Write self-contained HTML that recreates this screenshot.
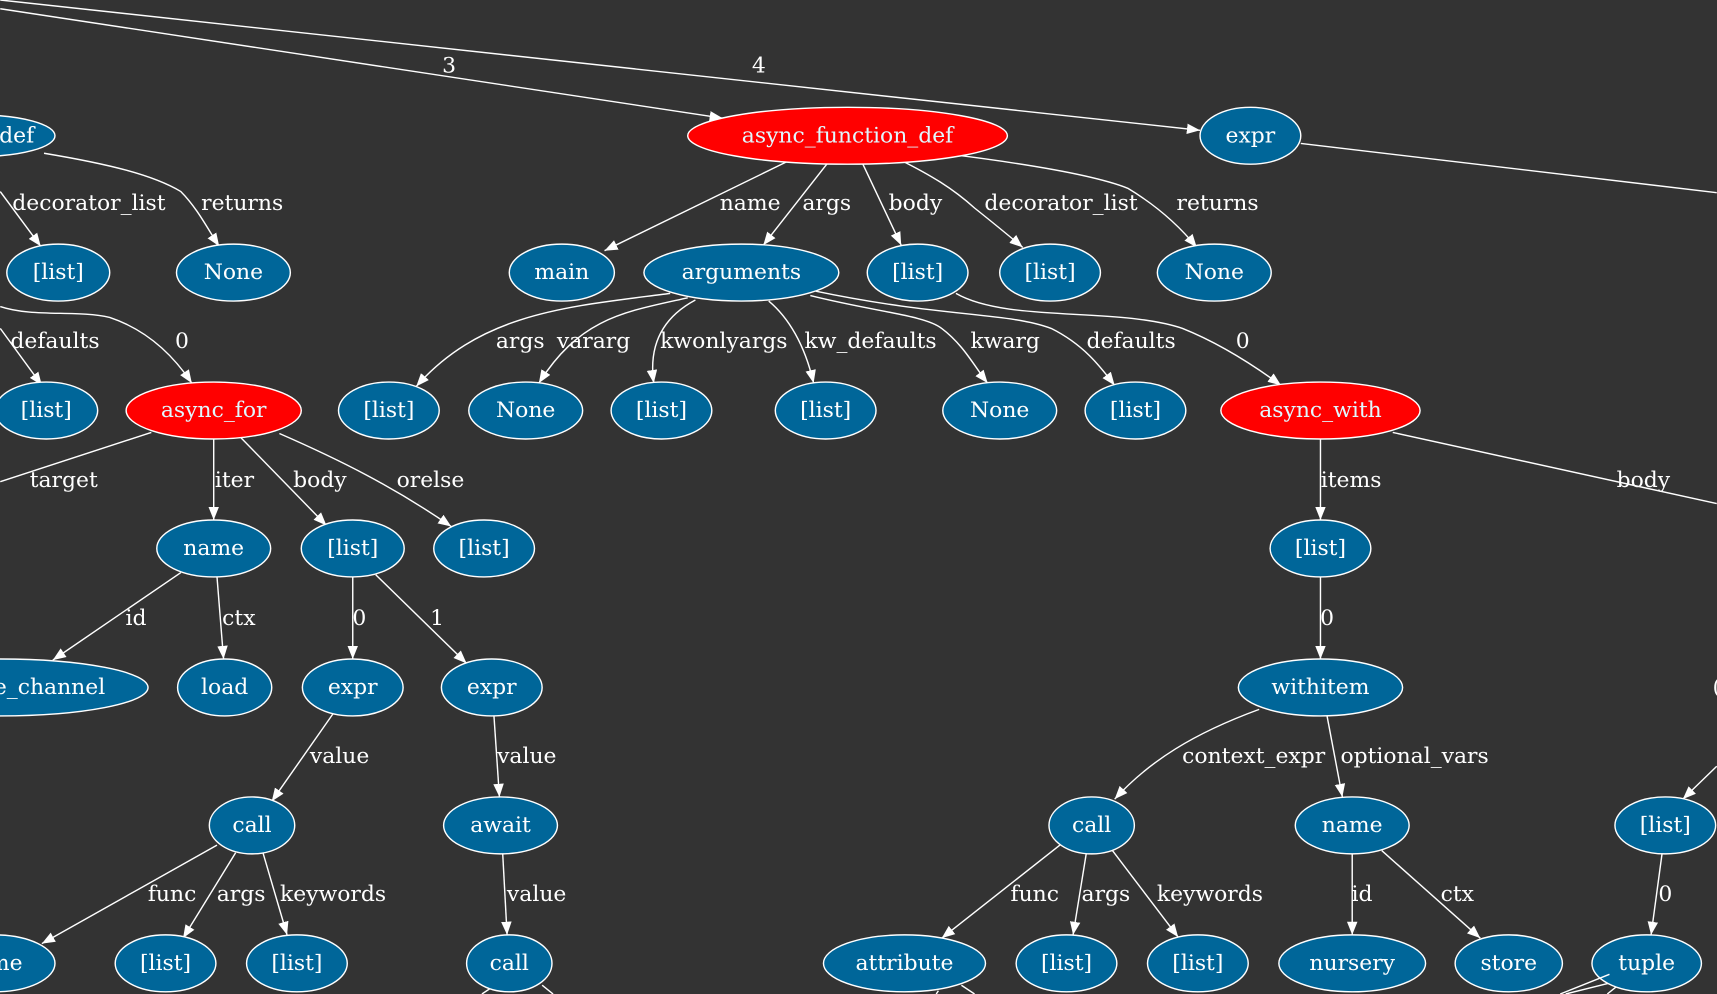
<!DOCTYPE html>
<html><head><meta charset="utf-8"><style>
html,body{margin:0;padding:0;background:#333333;overflow:hidden}
svg{display:block}
text{font-family:"DejaVu Serif","Liberation Serif",serif;font-size:20px;fill:#ffffff}
.n{fill:#006699;stroke:#ffffff;stroke-width:1.3}
.r{fill:#ff0000;stroke:#ffffff;stroke-width:1.3}
.e{fill:none;stroke:#ffffff;stroke-width:1.3}
.p{fill:none;stroke:#ffffff;stroke-width:1.3}
.c{text-anchor:middle}
.rt{fill:#e0f8ff}
</style></head><body>
<svg width="1717" height="994" viewBox="0 0 1568 908" xmlns="http://www.w3.org/2000/svg">
<defs>
<marker id="b" viewBox="0 0 10 10" markerWidth="12" markerHeight="12" refX="10" refY="5" orient="auto" markerUnits="userSpaceOnUse"><path d="M0,1 L10,5 L0,9 z" fill="#fff"/></marker></defs>
<style>.e{marker-end:url(#b)}</style>

<!-- top edges -->
<path class="e" d="M0,8 L660,108"/><text x="410" y="66" class="c">3</text>
<path class="e" d="M0,0 L1096,119"/><text x="693" y="66" class="c">4</text>
<path class="p" d="M1188,131 L1568,176"/>

<!-- def -->
<path class="e" d="M40,140 C100,150 140,160 165,175 C180,190 190,210 200,225"/><text x="221" y="192" class="c">returns</text>
<path class="e" d="M0,175 L37,225"/><text x="81" y="192" class="c">decorator_list</text>
<path class="e" d="M0,300 L38,352"/><text x="50" y="318" class="c">defaults</text>
<path class="e" d="M0,280 C30,290 70,283 100,290 C130,300 155,320 175,350"/><text x="166" y="318" class="c">0</text>

<!-- async_function_def -->
<path class="e" d="M718,148 L552,229"/><text x="685" y="192" class="c">name</text>
<path class="e" d="M755,150 L697,224"/><text x="755" y="192" class="c">args</text>
<path class="e" d="M788,150 L823,224"/><text x="836" y="192" class="c">body</text>
<path class="e" d="M822,146 C850,160 870,172 890,190 C905,202 920,214 934,226"/><text x="969" y="192" class="c">decorator_list</text>
<path class="e" d="M868,141 C940,150 1000,160 1030,172 C1060,190 1080,210 1093,226"/><text x="1112" y="192" class="c">returns</text>

<!-- arguments -->
<path class="e" d="M612,268 C520,280 440,285 380,353"/><text x="475" y="318" class="c">args</text>
<path class="e" d="M628,272 C570,285 530,290 492,350"/><text x="542" y="318" class="c">vararg</text>
<path class="e" d="M635,274 C605,290 592,315 597,350"/><text x="661" y="318" class="c">kwonlyargs</text>
<path class="e" d="M702,275 C720,290 735,315 743,350"/><text x="795" y="318" class="c">kw_defaults</text>
<path class="e" d="M740,270 C800,285 845,288 860,300 C880,315 890,335 902,350"/><text x="918" y="318" class="c">kwarg</text>
<path class="e" d="M745,266 C860,290 920,285 960,300 C990,315 1005,335 1018,352"/><text x="1033" y="318" class="c">defaults</text>
<path class="e" d="M873,268 C920,295 1020,280 1080,300 C1110,312 1140,330 1170,352"/><text x="1135" y="318" class="c">0</text>

<!-- async_for -->
<path class="p" d="M138,395 L0,440"/><text x="58" y="445" class="c">target</text>
<path class="e" d="M195,401 L195,475"/><text x="214" y="445" class="c">iter</text>
<path class="e" d="M220,400 L298,480"/><text x="292" y="445" class="c">body</text>
<path class="e" d="M255,396 C310,420 360,445 412,481"/><text x="393" y="445" class="c">orelse</text>

<!-- name -->
<path class="e" d="M165,523 L48,603"/><text x="124" y="571" class="c">id</text>
<path class="e" d="M198,527 L204,602"/><text x="218" y="571" class="c">ctx</text>
<path class="e" d="M322,527 L322,602"/><text x="328" y="571" class="c">0</text>
<path class="e" d="M343,525 L426,606"/><text x="399" y="571" class="c">1</text>
<path class="e" d="M304,652 L248,732"/><text x="310" y="697" class="c">value</text>
<path class="e" d="M451,654 L456,728"/><text x="481" y="697" class="c">value</text>
<path class="e" d="M198,772 L38,862"/><text x="157" y="823" class="c">func</text>
<path class="e" d="M215,779 L167,857"/><text x="220" y="823" class="c">args</text>
<path class="e" d="M240,779 L262,854"/><text x="304" y="823" class="c">keywords</text>
<path class="e" d="M459,780 L463,854"/><text x="490" y="823" class="c">value</text>
<path class="p" d="M440,908 L452,900 M495,900 L505,908"/>

<!-- async_with -->
<path class="e" d="M1206,401 L1206,475"/><text x="1234" y="445" class="c">items</text>
<path class="p" d="M1272,395 L1568,460"/><text x="1501" y="445" class="c">body</text>
<path class="e" d="M1206,527 L1206,602"/><text x="1212" y="571" class="c">0</text>
<path class="e" d="M1150,648 C1090,670 1050,695 1018,730"/><text x="1145" y="697" class="c">context_expr</text>
<path class="e" d="M1212,654 L1226,728"/><text x="1292" y="697" class="c">optional_vars</text>
<path class="e" d="M968,772 L860,857"/><text x="945" y="823" class="c">func</text>
<path class="e" d="M992,780 L980,854"/><text x="1010" y="823" class="c">args</text>
<path class="e" d="M1016,777 L1076,856"/><text x="1105" y="823" class="c">keywords</text>
<path class="p" d="M855,908 L857,905 M878,900 L890,908"/>
<path class="e" d="M1235,780 L1235,854"/><text x="1244" y="823" class="c">id</text>
<path class="e" d="M1262,777 L1352,857"/><text x="1331" y="823" class="c">ctx</text>
<path class="e" d="M1568,700 L1537,730"/><text x="1568" y="634" class="c">(</text>
<path class="e" d="M1518,780 L1508,854"/><text x="1521" y="823" class="c">0</text>
<path class="p" d="M1470,898 L1430,908 M1478,900 L1468,908"/>

<!-- nodes -->
<ellipse class="n" cx="-20" cy="124" rx="70" ry="19"/><text x="15" y="130" class="c">def</text>
<ellipse class="r" cx="774" cy="124" rx="146" ry="26"/><text x="774" y="130" class="c rt">async_function_def</text>
<ellipse class="n" cx="1142" cy="124" rx="46" ry="26"/><text x="1142" y="130" class="c">expr</text>

<ellipse class="n" cx="53" cy="249" rx="47" ry="26"/><text x="53" y="255" class="c">[list]</text>
<ellipse class="n" cx="213" cy="249" rx="52" ry="26"/><text x="213" y="255" class="c">None</text>
<ellipse class="n" cx="513" cy="249" rx="48" ry="26"/><text x="513" y="255" class="c">main</text>
<ellipse class="n" cx="677" cy="249" rx="89" ry="26"/><text x="677" y="255" class="c">arguments</text>
<ellipse class="n" cx="838" cy="249" rx="46" ry="26"/><text x="838" y="255" class="c">[list]</text>
<ellipse class="n" cx="959" cy="249" rx="46" ry="26"/><text x="959" y="255" class="c">[list]</text>
<ellipse class="n" cx="1109" cy="249" rx="52" ry="26"/><text x="1109" y="255" class="c">None</text>

<ellipse class="n" cx="42" cy="375" rx="47" ry="26"/><text x="42" y="381" class="c">[list]</text>
<ellipse class="r" cx="195" cy="375" rx="80" ry="26"/><text x="195" y="381" class="c rt">async_for</text>
<ellipse class="n" cx="355" cy="375" rx="46" ry="26"/><text x="355" y="381" class="c">[list]</text>
<ellipse class="n" cx="480" cy="375" rx="52" ry="26"/><text x="480" y="381" class="c">None</text>
<ellipse class="n" cx="604" cy="375" rx="46" ry="26"/><text x="604" y="381" class="c">[list]</text>
<ellipse class="n" cx="754" cy="375" rx="46" ry="26"/><text x="754" y="381" class="c">[list]</text>
<ellipse class="n" cx="913" cy="375" rx="52" ry="26"/><text x="913" y="381" class="c">None</text>
<ellipse class="n" cx="1037" cy="375" rx="46" ry="26"/><text x="1037" y="381" class="c">[list]</text>
<ellipse class="r" cx="1206" cy="375" rx="91" ry="26"/><text x="1206" y="381" class="c rt">async_with</text>

<ellipse class="n" cx="195" cy="501" rx="52" ry="26"/><text x="195" y="507" class="c">name</text>
<ellipse class="n" cx="322" cy="501" rx="47" ry="26"/><text x="322" y="507" class="c">[list]</text>
<ellipse class="n" cx="442" cy="501" rx="46" ry="26"/><text x="442" y="507" class="c">[list]</text>
<ellipse class="n" cx="1206" cy="501" rx="46" ry="26"/><text x="1206" y="507" class="c">[list]</text>

<ellipse class="n" cx="0" cy="628" rx="135" ry="26"/><text x="45" y="634" class="c">e_channel</text>
<ellipse class="n" cx="205" cy="628" rx="43" ry="26"/><text x="205" y="634" class="c">load</text>
<ellipse class="n" cx="322" cy="628" rx="46" ry="26"/><text x="322" y="634" class="c">expr</text>
<ellipse class="n" cx="449" cy="628" rx="46" ry="26"/><text x="449" y="634" class="c">expr</text>
<ellipse class="n" cx="1206" cy="628" rx="75" ry="26"/><text x="1206" y="634" class="c">withitem</text>

<ellipse class="n" cx="230" cy="754" rx="39" ry="26"/><text x="230" y="760" class="c">call</text>
<ellipse class="n" cx="457" cy="754" rx="52" ry="26"/><text x="457" y="760" class="c">await</text>
<ellipse class="n" cx="997" cy="754" rx="39" ry="26"/><text x="997" y="760" class="c">call</text>
<ellipse class="n" cx="1235" cy="754" rx="52" ry="26"/><text x="1235" y="760" class="c">name</text>
<ellipse class="n" cx="1521" cy="754" rx="46" ry="26"/><text x="1521" y="760" class="c">[list]</text>

<ellipse class="n" cx="-5" cy="880" rx="55" ry="26"/><text x="5" y="886" class="c">me</text>
<ellipse class="n" cx="151" cy="880" rx="46" ry="26"/><text x="151" y="886" class="c">[list]</text>
<ellipse class="n" cx="271" cy="880" rx="46" ry="26"/><text x="271" y="886" class="c">[list]</text>
<ellipse class="n" cx="465" cy="880" rx="39" ry="26"/><text x="465" y="886" class="c">call</text>
<ellipse class="n" cx="826" cy="880" rx="74" ry="26"/><text x="826" y="886" class="c">attribute</text>
<ellipse class="n" cx="974" cy="880" rx="46" ry="26"/><text x="974" y="886" class="c">[list]</text>
<ellipse class="n" cx="1094" cy="880" rx="46" ry="26"/><text x="1094" y="886" class="c">[list]</text>
<ellipse class="n" cx="1235" cy="880" rx="67" ry="26"/><text x="1235" y="886" class="c">nursery</text>
<ellipse class="n" cx="1378" cy="880" rx="49" ry="26"/><text x="1378" y="886" class="c">store</text>
<ellipse class="n" cx="1504" cy="880" rx="50" ry="26"/><text x="1504" y="886" class="c">tuple</text>
<path class="p" d="M1425,908 L1470,890"/>
</svg>
</body></html>
